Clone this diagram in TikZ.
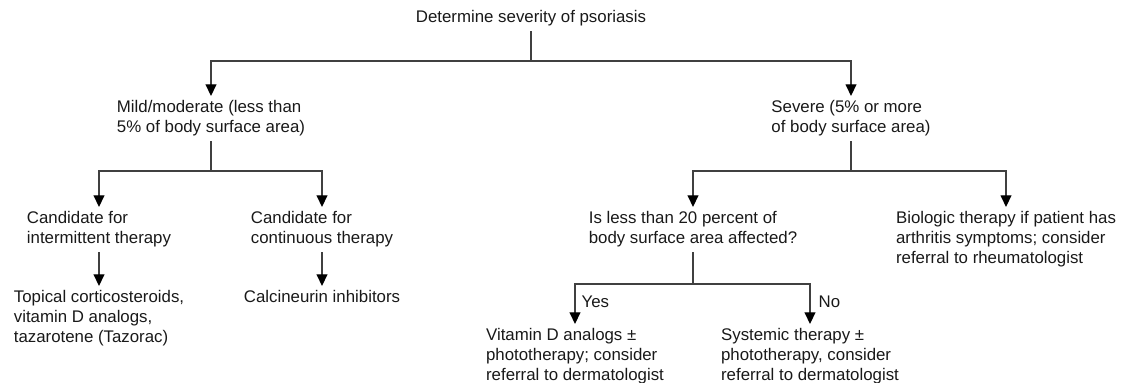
\documentclass[tikz,border=0pt]{standalone}
\usepackage{fontspec}
\setmainfont{Liberation Sans}
\usepackage{tikz}
\usetikzlibrary{arrows.meta}

\begin{document}
\begin{tikzpicture}[x=0.6pt,y=-0.6pt,
    txt/.style={anchor=north,align=left,inner xsep=0pt,inner ysep=2.4pt,
      font=\fontsize{10.1}{12}\selectfont,text=black!90},
    lbl/.style={anchor=west,inner sep=0pt,font=\fontsize{10.1}{12}\selectfont,text=black!90},
    line width=0.8pt,draw=black!75,
    >={Triangle[length=7pt,width=6.5pt,black]}]
    \useasboundingbox (0,0) rectangle (1126,383);

    \node[txt](d) at (531,6) {Determine severity of psoriasis};

    \node[txt](d0) at (211,96) {Mild/moderate (less than\\5\% of body surface area)};
    \node[txt](d1) at (851,96) {Severe (5\% or more\\of body surface area)};

    \node[txt](d00) at (99,207) {Candidate for\\intermittent therapy};
    \node[txt](d01) at (322,207) {Candidate for\\continuous therapy};
    \node[txt](d10) at (693,207) {Is less than 20 percent of\\body surface area affected?};
    \node[txt](d11) at (1006,207) {Biologic therapy if patient has\\arthritis symptoms; consider\\referral to rheumatologist};

    \node[txt](d000) at (99,286) {Topical corticosteroids,\\vitamin D analogs,\\tazarotene (Tazorac)};
    \node[txt](d010) at (322,286) {Calcineurin inhibitors};

    \node[txt](d100) at (575,324) {Vitamin D analogs ±\\phototherapy; consider\\referral to dermatologist};
    \node[txt](d101) at (810,324) {Systemic therapy ±\\phototherapy, consider\\referral to dermatologist};

    \coordinate (j) at (531,61);
    \coordinate (j0) at (211,171);
    \coordinate (j1) at (851,171);
    \coordinate (j10) at (693,284);

    \draw (d) -- (j);
    \draw[->] (j) -| (d0);
    \draw[->] (j) -| (d1);
    \draw (d0) -- (j0);
    \draw[->] (j0) -| (d00);
    \draw[->] (j0) -| (d01);
    \draw (d1) -- (j1);
    \draw[->] (j1) -| (d10);
    \draw[->] (j1) -| (d11);
    \draw[->] (d00) -- (d000);
    \draw[->] (d01) -- (d010);
    \draw (d10) -- (j10);
    \draw[->] (j10) -| (d100);
    \draw[->] (j10) -| (d101);

    \node[lbl](yes) at (581,302) {Yes};
    \node[lbl](no) at (818,302) {No};
\end{tikzpicture}
\end{document}
